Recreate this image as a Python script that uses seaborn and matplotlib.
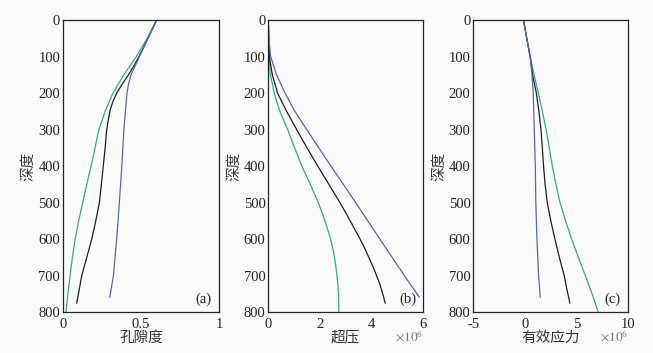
import numpy as np
import pandas as pd
import matplotlib
matplotlib.use('Agg')
import matplotlib.pyplot as plt
import seaborn as sns

# 曲线颜色（三种情形）
cases = ['case_green', 'case_black', 'case_blue']
palette = {'case_green': '#2fae78', 'case_black': '#1e1e1e', 'case_blue': '#5a63b4'}

# (a) 孔隙度
por_green_depth = [0, 25, 50, 75, 100, 125, 150, 175, 200, 250, 300, 350, 400, 450, 500,
                   550, 600, 650, 700, 750, 800]
por_green = [0.60, 0.57, 0.54, 0.505, 0.47, 0.43, 0.39, 0.355, 0.32, 0.27, 0.23, 0.205,
             0.18, 0.152, 0.126, 0.10, 0.078, 0.06, 0.045, 0.031, 0.019]
por_black_depth = [0, 50, 100, 125, 150, 175, 200, 225, 250, 300, 350, 400, 450, 500,
                   550, 600, 650, 700, 775]
por_black = [0.60, 0.545, 0.487, 0.455, 0.42, 0.38, 0.344, 0.318, 0.30, 0.28, 0.27, 0.258,
             0.246, 0.233, 0.21, 0.184, 0.152, 0.12, 0.088]
por_blue_depth = [0, 50, 100, 150, 175, 200, 250, 300, 400, 500, 600, 700, 759]
por_blue = [0.60, 0.545, 0.49, 0.436, 0.42, 0.41, 0.40, 0.39, 0.377, 0.361, 0.344, 0.323, 0.30]

# (b) 超压 (×10^6)
op_green_depth = [0, 100, 150, 200, 250, 300, 350, 400, 450, 500, 550, 600, 625, 650,
                  675, 700, 725, 750, 775, 800]
op_green = [0, 0.02, 0.08, 0.23, 0.45, 0.75, 1.02, 1.30, 1.63, 1.94, 2.20, 2.42, 2.50,
            2.57, 2.62, 2.66, 2.70, 2.72, 2.73, 2.74]
op_black_depth = [0, 100, 150, 200, 250, 300, 350, 400, 450, 500, 550, 600, 625, 650,
                  675, 700, 720, 740, 760, 775]
op_black = [0, 0.04, 0.155, 0.36, 0.71, 1.10, 1.50, 1.92, 2.35, 2.78, 3.18, 3.56, 3.74,
            3.90, 4.06, 4.20, 4.31, 4.40, 4.48, 4.53]
op_blue_depth = [0, 50, 100, 150, 200, 250, 300, 400, 500, 600, 700, 759]
op_blue = [0, 0.02, 0.09, 0.32, 0.65, 1.03, 1.49, 2.43, 3.39, 4.33, 5.28, 5.86]

# (c) 有效应力 (×10^6)
es_green_depth = [0, 100, 150, 200, 250, 300, 350, 400, 450, 500, 550, 600, 650, 700,
                  750, 800]
es_green = [-0.15, 0.50, 0.88, 1.30, 1.68, 2.05, 2.35, 2.65, 3.00, 3.39, 3.93, 4.52, 5.17,
            5.85, 6.50, 7.10]
es_black_depth = [0, 100, 150, 200, 250, 300, 350, 400, 450, 500, 550, 600, 650, 700,
                  740, 775]
es_black = [-0.15, 0.50, 0.74, 1.10, 1.35, 1.55, 1.68, 1.80, 1.95, 2.16, 2.50, 2.90, 3.33,
            3.80, 4.08, 4.35]
es_blue_depth = [0, 100, 150, 200, 300, 400, 500, 600, 700, 759]
es_blue = [-0.15, 0.50, 0.68, 0.80, 0.90, 1.00, 1.05, 1.16, 1.32, 1.48]


def make_df(depths, values):
    rows = []
    for c, d, v in zip(cases, depths, values):
        rows.append(pd.DataFrame({'depth': d, 'value': v, 'case': c}))
    return pd.concat(rows, ignore_index=True)


df_a = make_df([por_green_depth, por_black_depth, por_blue_depth], [por_green, por_black, por_blue])
df_b = make_df([op_green_depth, op_black_depth, op_blue_depth], [op_green, op_black, op_blue])
df_c = make_df([es_green_depth, es_black_depth, es_blue_depth], [es_green, es_black, es_blue])

sns.set_style('white')
plt.rcParams['font.family'] = ['Liberation Serif', 'Noto Sans CJK SC', 'DejaVu Sans']
plt.rcParams['mathtext.fontset'] = 'stix'

bg = '#fafafa'
fig = plt.figure(figsize=(6.53, 3.53), dpi=100, facecolor=bg)
ax_pos = [[0.0965, 0.1153, 0.2389, 0.828],
          [0.4109, 0.1153, 0.2369, 0.828],
          [0.7248, 0.1153, 0.2374, 0.828]]

panels = [
    (df_a, '孔隙度', (0, 1), [0, 0.5, 1], ['0', '0.5', '1'], '(a)', False),
    (df_b, '超压', (0, 6), [0, 2, 4, 6], ['0', '2', '4', '6'], '(b)', True),
    (df_c, '有效应力', (-5, 10), [-5, 0, 5, 10], ['-5', '0', '5', '10'], '(c)', True),
]

cjk = ['Noto Sans CJK SC', 'DejaVu Sans']

for pos, (df, xlabel, xlim, xticks, xticklabels, tag, sci) in zip(ax_pos, panels):
    ax = fig.add_axes(pos, facecolor=bg)
    sns.lineplot(data=df, x='value', y='depth', hue='case', palette=palette,
                 orient='y', estimator=None, linewidth=0.9, legend=False, ax=ax)
    ax.set_xlim(*xlim)
    ax.set_ylim(800, 0)
    ax.set_xticks(xticks)
    ax.set_xticklabels(xticklabels)
    ax.set_yticks(np.arange(0, 801, 100))
    ax.tick_params(direction='in', length=3, width=0.8, labelsize=10.5,
                   colors='#222222')
    ax.tick_params(axis='y', pad=2)
    ax.tick_params(axis='x', pad=4)
    for s in ax.spines.values():
        s.set_color('#222222')
        s.set_linewidth(0.9)
    ax.set_xlabel(xlabel, fontsize=10.5, family=cjk, color='#333333', labelpad=0)
    ax.set_ylabel('深度', fontsize=10.5, family=cjk, color='#333333', labelpad=2)
    ax.text(0.9, 0.045, tag, transform=ax.transAxes, fontsize=10.5,
            ha='center', va='center', color='#222222')
    if sci:
        ax.text(1.0, -0.085, r'$\times10^6$', transform=ax.transAxes, fontsize=9.5,
                ha='right', va='center', color='#777777')

fig.savefig('out.png', dpi=100, facecolor=bg)
